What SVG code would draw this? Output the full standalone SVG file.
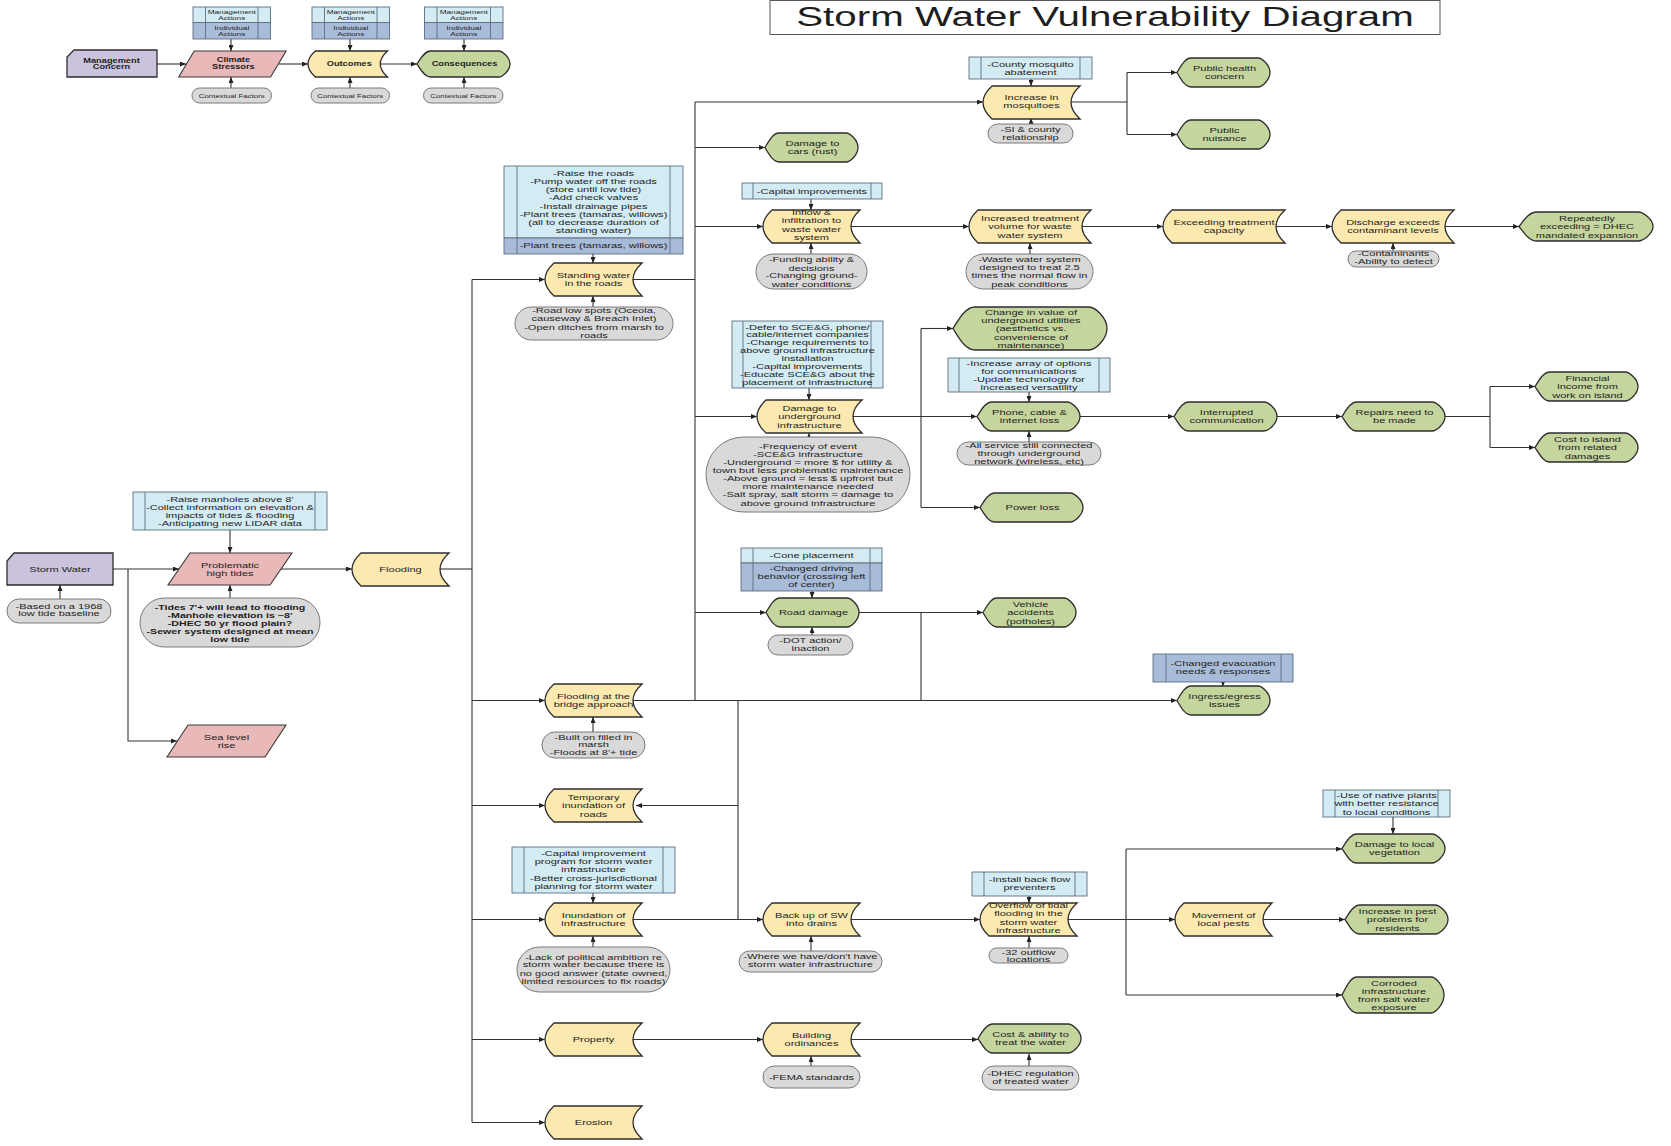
<svg xmlns="http://www.w3.org/2000/svg" xmlns:xlink="http://www.w3.org/1999/xlink" width="1671" height="1146" viewBox="0 0 1671 1146">
<style>
text{font-family:"Liberation Sans",Arial,Helvetica,sans-serif;fill:#1e1e1e;text-anchor:middle}
.t{font-size:8px}
.tb{font-size:7.7px;font-weight:bold}
.l{font-size:6.7px;font-weight:bold}
.s{font-size:6px}
.s2{font-size:5.7px}
.y{fill:#FCE9B0;stroke:#2e2e2e;stroke-width:1.3}
.g{fill:#C4D59E;stroke:#2e2e2e;stroke-width:1.3}
.p{fill:#E8B9B8;stroke:#3a3a3a;stroke-width:1.1}
.v{fill:#CBC2DD;stroke:#2e2e2e;stroke-width:1.3}
.a{fill:#D3EBF2;stroke:#5d6e80;stroke-width:0.9}
.d{fill:#A8BCD9;stroke:#5d6e80;stroke-width:0.9}
.k{fill:none;stroke:#5d6e80;stroke-width:0.9}
.c{fill:#D9D9D9;stroke:#7a7a7a;stroke-width:1}
.e{fill:none;stroke:#333;stroke-width:1.1}
.m{marker-end:url(#ah)}
</style>
<defs>
<marker id="ah" viewBox="0 0 6 5" refX="6" refY="2.5" markerWidth="6" markerHeight="5" markerUnits="userSpaceOnUse" orient="auto"><path d="M0,0L6,2.5L0,5Z" fill="#222"/></marker>
<path id="Y97" d="M9,0H97Q79,16.5 97,33H9Q-9,16.5 9,0Z"/>
<path id="Y105" d="M9,0H105Q87,16.5 105,33H9Q-9,16.5 9,0Z"/>
<path id="Y122" d="M9,0H122Q104,16.5 122,33H9Q-9,16.5 9,0Z"/>
<path id="Y79" d="M7.3,0H79.5Q65,13 79.5,26H7.3Q-7.3,13 7.3,0Z"/>
<path id="G90" d="M0,13C3.4,7.8 7.4,0 13.5,0H81.5C85.5,0 93,6.5 93,13C93,19.5 85.5,26 81.5,26H13.5C7.4,26 3.4,18.2 0,13Z"/>
<path id="G93" d="M0,14.5C3.5,8.7 7.7,0 14,0H81C85.2,0 93,7.25 93,14.5C93,21.75 85.2,29 81,29H14C7.7,29 3.5,20.3 0,14.5Z"/>
<path id="G103" d="M0,14.5C3.75,8.7 8.25,0 15,0H90C94.55,0 103,7.25 103,14.5C103,21.75 94.55,29 90,29H15C8.25,29 3.75,20.3 0,14.5Z"/>
<path id="G134" d="M0,14.5C4.5,8.7 9.9,0 18,0H119C124.25,0 134,7.25 134,14.5C134,21.75 124.25,29 119,29H18C9.9,29 4.5,20.3 0,14.5Z"/>
<path id="G154" d="M0,21.5C5.5,12.9 12.1,0 22,0H136C142.3,0 154,10.75 154,21.5C154,32.25 142.3,43 136,43H22C12.1,43 5.5,30.1 0,21.5Z"/>
<path id="G102" d="M0,18C3.75,10.8 8.25,0 15,0H89C93.55,0 102,9 102,18C102,27 93.55,36 89,36H15C8.25,36 3.75,25.2 0,18Z"/>
</defs>
<rect width="1671" height="1146" fill="#fff"/>

<g id="title"><rect x="770" y="0.5" width="670" height="34" fill="#fff" stroke="#555" stroke-width="1"/><text transform="translate(1105 0) scale(1.44 1)" font-size="28"><tspan x="0" y="26.5">Storm Water Vulnerability Diagram</tspan></text></g>

<g id="connectors">
<path class="e m" d="M157,64H186"/>
<path class="e m" d="M279,64H308"/>
<path class="e m" d="M380,64H417"/>
<path class="e m" d="M231,39V51"/>
<path class="e m" d="M350,39V51"/>
<path class="e m" d="M464,39V51"/>
<path class="e m" d="M231,88V77"/>
<path class="e m" d="M350,88V77"/>
<path class="e m" d="M464,88V77"/>

<path class="e m" d="M113,569H179"/>
<path class="e m" d="M128,569V741H177"/>
<path class="e m" d="M60,599V585"/>
<path class="e m" d="M230,530V553"/>
<path class="e m" d="M230,598V585"/>
<path class="e m" d="M281,569H352"/>
<path class="e" d="M440,569H472"/>
<path class="e" d="M472,279.5V1122.5"/>
<path class="e m" d="M472,279.5H545"/>
<path class="e m" d="M472,700.5H545"/>
<path class="e m" d="M472,805.5H545"/>
<path class="e m" d="M472,919.5H545"/>
<path class="e m" d="M472,1039.5H545"/>
<path class="e m" d="M472,1122.5H545"/>
<path class="e" d="M633,279.5H695"/>
<path class="e" d="M695,102V700.5"/>
<path class="e m" d="M695,102H983"/>
<path class="e m" d="M695,147.5H765"/>
<path class="e m" d="M695,226.5H763"/>
<path class="e m" d="M695,416.5H757"/>
<path class="e m" d="M695,612.5H766"/>
<path class="e m" d="M633,700.5H1177"/>
<path class="e" d="M738,700.5V919.5"/>
<path class="e m" d="M738,805.5H636"/>
<path class="e m" d="M633,919.5H763"/>
<path class="e m" d="M851,919.5H980"/>
<path class="e" d="M1068,919.5H1126M1126,849V995"/>
<path class="e m" d="M1126,849H1342"/>
<path class="e m" d="M1126,919.5H1175"/>
<path class="e m" d="M1126,995H1342"/>
<path class="e m" d="M1263,919.5H1345"/>
<path class="e m" d="M633,1039.5H763"/>
<path class="e m" d="M851,1039.5H978"/>
<path class="e" d="M1070,102H1127M1127,72.5V134.5"/>
<path class="e m" d="M1127,72.5H1177"/>
<path class="e m" d="M1127,134.5H1177"/>
<path class="e m" d="M850,226.5H969"/>
<path class="e m" d="M1082,226.5H1163"/>
<path class="e m" d="M1276,226.5H1332"/>
<path class="e m" d="M1445,226.5H1519"/>
<path class="e m" d="M853,416.5H977"/>
<path class="e" d="M921,328.5V507.5"/>
<path class="e m" d="M921,328.5H953"/>
<path class="e m" d="M921,507.5H980"/>
<path class="e m" d="M1080,416.5H1174"/>
<path class="e m" d="M1277,416.5H1342"/>
<path class="e" d="M1445,416.5H1490M1490,386.5V447.5"/>
<path class="e m" d="M1490,386.5H1535"/>
<path class="e m" d="M1490,447.5H1535"/>
<path class="e m" d="M858,612.5H983"/>
<path class="e" d="M921,612.5V700.5"/>

<path class="e m" d="M593,254V263"/>
<path class="e m" d="M593,307V296"/>
<path class="e m" d="M811,199V210"/>
<path class="e m" d="M811,254V243"/>
<path class="e m" d="M1031,79V86"/>
<path class="e m" d="M1031,124V118"/>
<path class="e m" d="M1030,254V243"/>
<path class="e m" d="M1393,251V243"/>
<path class="e m" d="M809,388V400"/>
<path class="e m" d="M809,437V433"/>
<path class="e m" d="M1029,392V402"/>
<path class="e m" d="M1029,442V431"/>
<path class="e m" d="M812,591V598"/>
<path class="e m" d="M812,635V627"/>
<path class="e m" d="M1223,682V686.5"/>
<path class="e m" d="M593,732V717"/>
<path class="e m" d="M593,893V903"/>
<path class="e m" d="M593,947V936"/>
<path class="e m" d="M811,951V936"/>
<path class="e m" d="M811,1066V1056"/>
<path class="e m" d="M1029,896V903"/>
<path class="e m" d="M1029,948V936"/>
<path class="e m" d="M1393,817V834"/>
<path class="e m" d="M1029,1066V1054"/>
</g>

<!-- Legend -->
<g id="lg-concern" transform="translate(67,50)"><path class="v" d="M7,0H90V27H0V7Z"/><text class="l" transform="translate(44.5 0) scale(1.38 1)"><tspan x="0" y="13">Management</tspan><tspan x="0" y="19.4">Concern</tspan></text></g>
<g id="lg-stressors" transform="translate(178.7,51)"><polygon class="p" points="15.5,0 107.4,0 91.9,26 0,26"/><text class="l" transform="translate(54.7 0) scale(1.38 1)"><tspan x="0" y="11.4">Climate</tspan><tspan x="0" y="18.2">Stressors</tspan></text></g>
<g id="lg-outcomes" transform="translate(308,51)"><use href="#Y79" class="y"/><text class="l" transform="translate(41.3 0) scale(1.38 1)"><tspan x="0" y="15.2">Outcomes</tspan></text></g>
<g id="lg-consequences" transform="translate(417,51)"><use href="#G90" class="g"/><text class="l" transform="translate(47.5 0) scale(1.38 1)"><tspan x="0" y="15.2">Consequences</tspan></text></g>
<g id="lg-actions1" transform="translate(193,7)"><rect class="a" width="77.5" height="15.5"/><rect class="d" y="15.5" width="77.5" height="16.5"/><path class="k" d="M12.5,0V32M65,0V32"/><text class="s" transform="translate(38.75 0) scale(1.38 1)"><tspan x="0" y="6.8">Management</tspan><tspan x="0" y="12.9">Actions</tspan><tspan x="0" y="23.5">Individual</tspan><tspan x="0" y="29.3">Actions</tspan></text></g>
<g id="lg-actions2" transform="translate(312,7)"><rect class="a" width="77.5" height="15.5"/><rect class="d" y="15.5" width="77.5" height="16.5"/><path class="k" d="M12.5,0V32M65,0V32"/><text class="s" transform="translate(38.75 0) scale(1.38 1)"><tspan x="0" y="6.8">Management</tspan><tspan x="0" y="12.9">Actions</tspan><tspan x="0" y="23.5">Individual</tspan><tspan x="0" y="29.3">Actions</tspan></text></g>
<g id="lg-actions3" transform="translate(424.5,7)"><rect class="a" width="78.5" height="15.5"/><rect class="d" y="15.5" width="78.5" height="16.5"/><path class="k" d="M12.5,0V32M66,0V32"/><text class="s" transform="translate(39.25 0) scale(1.38 1)"><tspan x="0" y="6.8">Management</tspan><tspan x="0" y="12.9">Actions</tspan><tspan x="0" y="23.5">Individual</tspan><tspan x="0" y="29.3">Actions</tspan></text></g>
<g id="lg-context1" transform="translate(192,88)"><rect class="c" width="79.5" height="15" rx="7.5"/><text class="s2" transform="translate(39.75 0) scale(1.38 1)"><tspan x="0" y="10.1">Contextual Factors</tspan></text></g>
<g id="lg-context2" transform="translate(311,88)"><rect class="c" width="78.5" height="15" rx="7.5"/><text class="s2" transform="translate(39.25 0) scale(1.38 1)"><tspan x="0" y="10.1">Contextual Factors</tspan></text></g>
<g id="lg-context3" transform="translate(423.5,88)"><rect class="c" width="79.5" height="15" rx="7.5"/><text class="s2" transform="translate(39.75 0) scale(1.38 1)"><tspan x="0" y="10.1">Contextual Factors</tspan></text></g>

<!-- Left side -->
<g id="storm-water" transform="translate(7,553)"><path class="v" d="M7,0H106V32H0V8Z"/><text class="t" transform="translate(53 0) scale(1.38 1)"><tspan x="0" y="18.9">Storm Water</tspan></text></g>
<g id="storm-water-ctx" transform="translate(7,599)"><rect class="c" width="104" height="24" rx="12"/><text class="t" transform="translate(52 0) scale(1.38 1)"><tspan x="0" y="9.6">-Based on a 1968</tspan><tspan x="0" y="17.4">low tide baseline</tspan></text></g>
<g id="high-tides" transform="translate(168,553)"><polygon class="p" points="22,0 124,0 102,32 0,32"/><text class="t" transform="translate(62 0) scale(1.38 1)"><tspan x="0" y="14.8">Problematic</tspan><tspan x="0" y="23">high tides</tspan></text></g>
<g id="high-tides-act" transform="translate(133,492)"><rect class="a" width="194" height="38"/><path class="k" d="M12,0V38M182,0V38"/><text class="t" transform="translate(97 0) scale(1.38 1)"><tspan x="0" y="9.6">-Raise manholes above 8'</tspan><tspan x="0" y="17.8">-Collect information on elevation &amp;</tspan><tspan x="0" y="26">impacts of tides &amp; flooding</tspan><tspan x="0" y="34.2">-Anticipating new LIDAR data</tspan></text></g>
<g id="high-tides-ctx" transform="translate(140,598)"><rect class="c" width="180" height="49" rx="24.5"/><text class="tb" transform="translate(90 0) scale(1.38 1)"><tspan x="0" y="11.6">-Tides 7'+ will lead to flooding</tspan><tspan x="0" y="19.9">-Manhole elevation is ~8'</tspan><tspan x="0" y="27.9">-DHEC 50 yr flood plain?</tspan><tspan x="0" y="35.9">-Sewer system designed at mean</tspan><tspan x="0" y="43.9">low tide</tspan></text></g>
<g id="sea-level" transform="translate(167,725)"><polygon class="p" points="21,0 119,0 98,32 0,32"/><text class="t" transform="translate(59.5 0) scale(1.38 1)"><tspan x="0" y="14.8">Sea level</tspan><tspan x="0" y="23">rise</tspan></text></g>
<g id="flooding" transform="translate(352,553)"><use href="#Y97" class="y"/><text class="t" transform="translate(48.5 0) scale(1.38 1)"><tspan x="0" y="19.4">Flooding</tspan></text></g>

<!-- Column of outcomes from flooding -->
<g id="standing-act" transform="translate(504,166)"><rect class="a" width="179" height="72"/><rect class="d" y="72" width="179" height="16"/><path class="k" d="M13,0V88M166,0V88"/><text class="t" transform="translate(89.5 0) scale(1.38 1)"><tspan x="0" y="10.2">-Raise the roads</tspan><tspan x="0" y="18.3">-Pump water off the roads</tspan><tspan x="0" y="26.4">(store until low tide)</tspan><tspan x="0" y="34.5">-Add check valves</tspan><tspan x="0" y="42.6">-Install drainage pipes</tspan><tspan x="0" y="50.7">-Plant trees (tamaras, willows)</tspan><tspan x="0" y="58.8">(all to decrease duration of</tspan><tspan x="0" y="66.9">standing water)</tspan><tspan x="0" y="82.4">-Plant trees (tamaras, willows)</tspan></text></g>
<g id="standing" transform="translate(545,263)"><use href="#Y97" class="y"/><text class="t" transform="translate(48.5 0) scale(1.38 1)"><tspan x="0" y="15.3">Standing water</tspan><tspan x="0" y="23.5">in the roads</tspan></text></g>
<g id="standing-ctx" transform="translate(515,307)"><rect class="c" width="158" height="33" rx="16.5"/><text class="t" transform="translate(79 0) scale(1.38 1)"><tspan x="0" y="6.2">-Road low spots (Oceola,</tspan><tspan x="0" y="14.4">causeway &amp; Breach Inlet)</tspan><tspan x="0" y="22.6">-Open ditches from marsh to</tspan><tspan x="0" y="30.6">roads</tspan></text></g>
<g id="bridge" transform="translate(545,684)"><use href="#Y97" class="y"/><text class="t" transform="translate(48.5 0) scale(1.38 1)"><tspan x="0" y="15.3">Flooding at the</tspan><tspan x="0" y="23.5">bridge approach</tspan></text></g>
<g id="bridge-ctx" transform="translate(542,732)"><rect class="c" width="103" height="26" rx="13"/><text class="t" transform="translate(51.5 0) scale(1.38 1)"><tspan x="0" y="7.6">-Built on filled in</tspan><tspan x="0" y="15.2">marsh</tspan><tspan x="0" y="23.2">-Floods at 8'+ tide</tspan></text></g>
<g id="temporary" transform="translate(545,789)"><use href="#Y97" class="y"/><text class="t" transform="translate(48.5 0) scale(1.38 1)"><tspan x="0" y="11.2">Temporary</tspan><tspan x="0" y="19.4">inundation of</tspan><tspan x="0" y="27.6">roads</tspan></text></g>
<g id="inund-act" transform="translate(512,847)"><rect class="a" width="163" height="46"/><path class="k" d="M12,0V46M151,0V46"/><text class="t" transform="translate(81.5 0) scale(1.38 1)"><tspan x="0" y="9.2">-Capital improvement</tspan><tspan x="0" y="17.4">program for storm water</tspan><tspan x="0" y="25.5">infrastructure</tspan><tspan x="0" y="33.6">-Better cross-jurisdictional</tspan><tspan x="0" y="41.8">planning for storm water</tspan></text></g>
<g id="inundation" transform="translate(545,903)"><use href="#Y97" class="y"/><text class="t" transform="translate(48.5 0) scale(1.38 1)"><tspan x="0" y="15.3">Inundation of</tspan><tspan x="0" y="23.5">infrastructure</tspan></text></g>
<g id="inund-ctx" transform="translate(517,947)"><rect class="c" width="153" height="45" rx="22.5"/><text class="t" transform="translate(76.5 0) scale(1.38 1)"><tspan x="0" y="12.6">-Lack of political ambition re</tspan><tspan x="0" y="20.4">storm water because there is</tspan><tspan x="0" y="28.6">no good answer (state owned,</tspan><tspan x="0" y="36.6">limited resources to fix roads)</tspan></text></g>
<g id="property" transform="translate(545,1023)"><use href="#Y97" class="y"/><text class="t" transform="translate(48.5 0) scale(1.38 1)"><tspan x="0" y="19.4">Property</tspan></text></g>
<g id="erosion" transform="translate(545,1106)"><use href="#Y97" class="y"/><text class="t" transform="translate(48.5 0) scale(1.38 1)"><tspan x="0" y="19.4">Erosion</tspan></text></g>

<!-- Mosquitoes -->
<g id="mosq-act" transform="translate(969,57)"><rect class="a" width="123" height="22"/><path class="k" d="M12,0V22M111,0V22"/><text class="t" transform="translate(61.5 0) scale(1.38 1)"><tspan x="0" y="9.6">-County mosquito</tspan><tspan x="0" y="17.8">abatement</tspan></text></g>
<g id="mosquitoes" transform="translate(983,86)"><use href="#Y97" class="y"/><text class="t" transform="translate(48.5 0) scale(1.38 1)"><tspan x="0" y="14.3">Increase in</tspan><tspan x="0" y="22.5">mosquitoes</tspan></text></g>
<g id="mosq-ctx" transform="translate(988,124)"><rect class="c" width="85" height="19" rx="9.5"/><text class="t" transform="translate(42.5 0) scale(1.38 1)"><tspan x="0" y="7.9">-SI &amp; county</tspan><tspan x="0" y="15.6">relationship</tspan></text></g>
<g id="public-health" transform="translate(1177,58)"><use href="#G93" class="g"/><text class="t" transform="translate(47.5 0) scale(1.38 1)"><tspan x="0" y="13.3">Public health</tspan><tspan x="0" y="21.5">concern</tspan></text></g>
<g id="public-nuisance" transform="translate(1177,120)"><use href="#G93" class="g"/><text class="t" transform="translate(47.5 0) scale(1.38 1)"><tspan x="0" y="13.3">Public</tspan><tspan x="0" y="21.5">nuisance</tspan></text></g>
<g id="cars" transform="translate(765,133)"><use href="#G93" class="g"/><text class="t" transform="translate(47.5 0) scale(1.38 1)"><tspan x="0" y="13.3">Damage to</tspan><tspan x="0" y="21.5">cars (rust)</tspan></text></g>

<!-- Waste water chain -->
<g id="inflow-act" transform="translate(742,183)"><rect class="a" width="140" height="16"/><path class="k" d="M11,0V16M129,0V16"/><text class="t" transform="translate(70 0) scale(1.38 1)"><tspan x="0" y="10.9">-Capital improvements</tspan></text></g>
<g id="inflow" transform="translate(763,210)"><use href="#Y97" class="y"/><text class="t" transform="translate(48.5 0) scale(1.38 1)"><tspan x="0" y="5.2">Inflow &amp;</tspan><tspan x="0" y="13.4">infiltration to</tspan><tspan x="0" y="21.6">waste water</tspan><tspan x="0" y="29.8">system</tspan></text></g>
<g id="inflow-ctx" transform="translate(756,254)"><rect class="c" width="111" height="35" rx="17.5"/><text class="t" transform="translate(55.5 0) scale(1.38 1)"><tspan x="0" y="8.2">-Funding ability &amp;</tspan><tspan x="0" y="16.6">decisions</tspan><tspan x="0" y="24.4">-Changing ground-</tspan><tspan x="0" y="32.6">water conditions</tspan></text></g>
<g id="treatment-volume" transform="translate(969,210)"><use href="#Y122" class="y"/><text class="t" transform="translate(61 0) scale(1.38 1)"><tspan x="0" y="11.2">Increased treatment</tspan><tspan x="0" y="19.4">volume for waste</tspan><tspan x="0" y="27.6">water system</tspan></text></g>
<g id="treatment-volume-ctx" transform="translate(966,254)"><rect class="c" width="127" height="35" rx="17.5"/><text class="t" transform="translate(63.5 0) scale(1.38 1)"><tspan x="0" y="8.2">-Waste water system</tspan><tspan x="0" y="16.4">designed to treat 2.5</tspan><tspan x="0" y="24.4">times the normal flow in</tspan><tspan x="0" y="32.6">peak conditions</tspan></text></g>
<g id="exceeding" transform="translate(1163,210)"><use href="#Y122" class="y"/><text class="t" transform="translate(61 0) scale(1.38 1)"><tspan x="0" y="15.3">Exceeding treatment</tspan><tspan x="0" y="23.5">capacity</tspan></text></g>
<g id="discharge" transform="translate(1332,210)"><use href="#Y122" class="y"/><text class="t" transform="translate(61 0) scale(1.38 1)"><tspan x="0" y="15.3">Discharge exceeds</tspan><tspan x="0" y="23.5">contaminant levels</tspan></text></g>
<g id="discharge-ctx" transform="translate(1348,251)"><rect class="c" width="91" height="16" rx="8"/><text class="t" transform="translate(45.5 0) scale(1.38 1)"><tspan x="0" y="5.4">-Contaminants</tspan><tspan x="0" y="12.8">-Ability to detect</tspan></text></g>
<g id="repeatedly" transform="translate(1519,212)"><use href="#G134" class="g"/><text class="t" transform="translate(68 0) scale(1.38 1)"><tspan x="0" y="9.2">Repeatedly</tspan><tspan x="0" y="17.4">exceeding = DHEC</tspan><tspan x="0" y="25.6">mandated expansion</tspan></text></g>

<!-- Underground infrastructure -->
<g id="under-act" transform="translate(732,321)"><rect class="a" width="151" height="67"/><path class="k" d="M11,0V67M139,0V67"/><text class="t" transform="translate(75.5 0) scale(1.38 1)"><tspan x="0" y="8.6">-Defer to SCE&amp;G, phone/</tspan><tspan x="0" y="16.45">cable/internet companies</tspan><tspan x="0" y="24.3">-Change requirements to</tspan><tspan x="0" y="32.15">above ground infrastructure</tspan><tspan x="0" y="40">installation</tspan><tspan x="0" y="47.85">-Capital improvements</tspan><tspan x="0" y="55.7">-Educate SCE&amp;G about the</tspan><tspan x="0" y="63.55">placement of infrastructure</tspan></text></g>
<g id="underground" transform="translate(757,400)"><use href="#Y105" class="y"/><text class="t" transform="translate(52.5 0) scale(1.38 1)"><tspan x="0" y="11.2">Damage to</tspan><tspan x="0" y="19.4">underground</tspan><tspan x="0" y="27.6">infrastructure</tspan></text></g>
<g id="under-ctx" transform="translate(706,437)"><rect class="c" width="204" height="75" rx="37.5"/><text class="t" transform="translate(102 0) scale(1.38 1)"><tspan x="0" y="11.9">-Frequency of event</tspan><tspan x="0" y="20">-SCE&amp;G infrastructure</tspan><tspan x="0" y="28.1">-Underground = more $ for utility &amp;</tspan><tspan x="0" y="36.2">town but less problematic maintenance</tspan><tspan x="0" y="44.3">-Above ground = less $ upfront but</tspan><tspan x="0" y="52.4">more maintenance needed</tspan><tspan x="0" y="60.5">-Salt spray, salt storm = damage to</tspan><tspan x="0" y="68.6">above ground infrastructure</tspan></text></g>
<g id="utility-value" transform="translate(953,307)"><use href="#G154" class="g"/><text class="t" transform="translate(78 0) scale(1.38 1)"><tspan x="0" y="8">Change in value of</tspan><tspan x="0" y="16.2">underground utilities</tspan><tspan x="0" y="24.4">(aesthetics vs.</tspan><tspan x="0" y="32.6">convenience of</tspan><tspan x="0" y="40.8">maintenance)</tspan></text></g>
<g id="phone-act" transform="translate(948,358)"><rect class="a" width="162" height="34"/><path class="k" d="M11,0V34M151,0V34"/><text class="t" transform="translate(81 0) scale(1.38 1)"><tspan x="0" y="7.6">-Increase array of options</tspan><tspan x="0" y="15.6">for communications</tspan><tspan x="0" y="23.6">-Update technology for</tspan><tspan x="0" y="31.6">increased versatility</tspan></text></g>
<g id="phone" transform="translate(977,402)"><use href="#G103" class="g"/><text class="t" transform="translate(52.5 0) scale(1.38 1)"><tspan x="0" y="13.3">Phone, cable &amp;</tspan><tspan x="0" y="21.5">internet loss</tspan></text></g>
<g id="phone-ctx" transform="translate(957,442)"><rect class="c" width="144" height="23" rx="11.5"/><text class="t" transform="translate(72 0) scale(1.38 1)"><tspan x="0" y="6">-All service still connected</tspan><tspan x="0" y="14.2">through underground</tspan><tspan x="0" y="22.1">network (wireless, etc)</tspan></text></g>
<g id="power-loss" transform="translate(980,493)"><use href="#G103" class="g"/><text class="t" transform="translate(52.5 0) scale(1.38 1)"><tspan x="0" y="17.4">Power loss</tspan></text></g>
<g id="interrupted" transform="translate(1174,402)"><use href="#G103" class="g"/><text class="t" transform="translate(52.5 0) scale(1.38 1)"><tspan x="0" y="13.3">Interrupted</tspan><tspan x="0" y="21.5">communication</tspan></text></g>
<g id="repairs" transform="translate(1342,402)"><use href="#G103" class="g"/><text class="t" transform="translate(52.5 0) scale(1.38 1)"><tspan x="0" y="13.3">Repairs need to</tspan><tspan x="0" y="21.5">be made</tspan></text></g>
<g id="financial" transform="translate(1535,372)"><use href="#G103" class="g"/><text class="t" transform="translate(52.5 0) scale(1.38 1)"><tspan x="0" y="9.2">Financial</tspan><tspan x="0" y="17.4">income from</tspan><tspan x="0" y="25.6">work on island</tspan></text></g>
<g id="cost-island" transform="translate(1535,433)"><use href="#G103" class="g"/><text class="t" transform="translate(52.5 0) scale(1.38 1)"><tspan x="0" y="9.2">Cost to island</tspan><tspan x="0" y="17.4">from related</tspan><tspan x="0" y="25.6">damages</tspan></text></g>

<!-- Road damage -->
<g id="road-act" transform="translate(741,548)"><rect class="a" width="141" height="15"/><rect class="d" y="15" width="141" height="28"/><path class="k" d="M12,0V43M129,0V43"/><text class="t" transform="translate(70.5 0) scale(1.38 1)"><tspan x="0" y="10.4">-Cone placement</tspan><tspan x="0" y="23.3">-Changed driving</tspan><tspan x="0" y="31.4">behavior (crossing left</tspan><tspan x="0" y="39.5">of center)</tspan></text></g>
<g id="road-damage" transform="translate(766,598)"><use href="#G93" class="g"/><text class="t" transform="translate(47.5 0) scale(1.38 1)"><tspan x="0" y="17.4">Road damage</tspan></text></g>
<g id="road-ctx" transform="translate(768,635)"><rect class="c" width="85" height="20" rx="10"/><text class="t" transform="translate(42.5 0) scale(1.38 1)"><tspan x="0" y="7.9">-DOT action/</tspan><tspan x="0" y="16.2">inaction</tspan></text></g>
<g id="vehicle" transform="translate(983,598)"><use href="#G93" class="g"/><text class="t" transform="translate(47.5 0) scale(1.38 1)"><tspan x="0" y="9.2">Vehicle</tspan><tspan x="0" y="17.4">accidents</tspan><tspan x="0" y="25.6">(potholes)</tspan></text></g>
<g id="ingress-act" transform="translate(1153,654)"><rect class="d" width="140" height="28"/><path class="k" d="M13,0V28M128,0V28"/><text class="t" transform="translate(70 0) scale(1.38 1)"><tspan x="0" y="12.2">-Changed evacuation</tspan><tspan x="0" y="20">needs &amp; responses</tspan></text></g>
<g id="ingress" transform="translate(1177,686)"><use href="#G93" class="g"/><text class="t" transform="translate(47.5 0) scale(1.38 1)"><tspan x="0" y="13.3">Ingress/egress</tspan><tspan x="0" y="21.5">issues</tspan></text></g>

<!-- Drains chain -->
<g id="backup" transform="translate(763,903)"><use href="#Y97" class="y"/><text class="t" transform="translate(48.5 0) scale(1.38 1)"><tspan x="0" y="15.3">Back up of SW</tspan><tspan x="0" y="23.5">into drains</tspan></text></g>
<g id="backup-ctx" transform="translate(739,951)"><rect class="c" width="143" height="21" rx="10.5"/><text class="t" transform="translate(71.5 0) scale(1.38 1)"><tspan x="0" y="8">-Where we have/don't have</tspan><tspan x="0" y="16">storm water infrastructure</tspan></text></g>
<g id="overflow-act" transform="translate(972,872)"><rect class="a" width="115" height="24"/><path class="k" d="M12,0V24M103,0V24"/><text class="t" transform="translate(57.5 0) scale(1.38 1)"><tspan x="0" y="9.9">-Install back flow</tspan><tspan x="0" y="18.2">preventers</tspan></text></g>
<g id="overflow" transform="translate(980,903)"><use href="#Y97" class="y"/><text class="t" transform="translate(48.5 0) scale(1.38 1)"><tspan x="0" y="5.2">Overflow of tidal</tspan><tspan x="0" y="13.4">flooding in the</tspan><tspan x="0" y="21.6">storm water</tspan><tspan x="0" y="29.8">infrastructure</tspan></text></g>
<g id="overflow-ctx" transform="translate(989,948)"><rect class="c" width="79" height="15" rx="7.5"/><text class="t" transform="translate(39.5 0) scale(1.38 1)"><tspan x="0" y="6.6">-32 outflow</tspan><tspan x="0" y="14.2">locations</tspan></text></g>
<g id="vegetation-act" transform="translate(1323,790)"><rect class="a" width="127" height="27"/><path class="k" d="M12,0V27M115,0V27"/><text class="t" transform="translate(63.5 0) scale(1.38 1)"><tspan x="0" y="7.9">-Use of native plants</tspan><tspan x="0" y="16.2">with better resistance</tspan><tspan x="0" y="24.6">to local conditions</tspan></text></g>
<g id="vegetation" transform="translate(1342,834)"><use href="#G103" class="g"/><text class="t" transform="translate(52.5 0) scale(1.38 1)"><tspan x="0" y="13.3">Damage to local</tspan><tspan x="0" y="21.5">vegetation</tspan></text></g>
<g id="pests" transform="translate(1175,903)"><use href="#Y97" class="y"/><text class="t" transform="translate(48.5 0) scale(1.38 1)"><tspan x="0" y="15.3">Movement of</tspan><tspan x="0" y="23.5">local pests</tspan></text></g>
<g id="pest-problems" transform="translate(1345,905)"><use href="#G103" class="g"/><text class="t" transform="translate(52.5 0) scale(1.38 1)"><tspan x="0" y="9.2">Increase in pest</tspan><tspan x="0" y="17.4">problems for</tspan><tspan x="0" y="25.6">residents</tspan></text></g>
<g id="corroded" transform="translate(1342,977)"><use href="#G102" class="g"/><text class="t" transform="translate(52 0) scale(1.38 1)"><tspan x="0" y="8.6">Corroded</tspan><tspan x="0" y="16.8">infrastructure</tspan><tspan x="0" y="25">from salt water</tspan><tspan x="0" y="33.2">exposure</tspan></text></g>

<!-- Property chain -->
<g id="building" transform="translate(763,1023)"><use href="#Y97" class="y"/><text class="t" transform="translate(48.5 0) scale(1.38 1)"><tspan x="0" y="15.3">Building</tspan><tspan x="0" y="23.5">ordinances</tspan></text></g>
<g id="building-ctx" transform="translate(763,1066)"><rect class="c" width="97" height="22" rx="11"/><text class="t" transform="translate(48.5 0) scale(1.38 1)"><tspan x="0" y="13.6">-FEMA standards</tspan></text></g>
<g id="treat-cost" transform="translate(978,1024)"><use href="#G103" class="g"/><text class="t" transform="translate(52.5 0) scale(1.38 1)"><tspan x="0" y="13.3">Cost &amp; ability to</tspan><tspan x="0" y="21.5">treat the water</tspan></text></g>
<g id="treat-cost-ctx" transform="translate(982,1066)"><rect class="c" width="97" height="24" rx="12"/><text class="t" transform="translate(48.5 0) scale(1.38 1)"><tspan x="0" y="9.6">-DHEC regulation</tspan><tspan x="0" y="17.6">of treated water</tspan></text></g>
</svg>
